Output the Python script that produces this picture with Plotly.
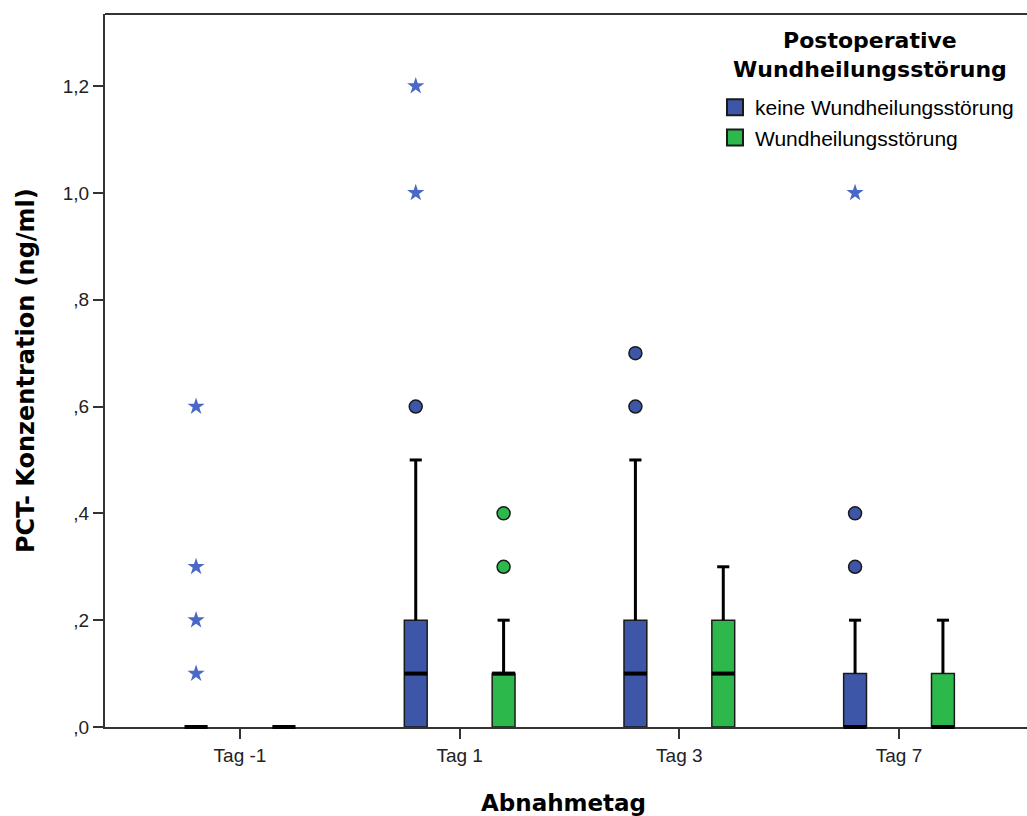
import plotly.graph_objects as go

# ---------------- data ----------------
categories = ["Tag -1", "Tag 1", "Tag 3", "Tag 7"]
groups = ["keine Wundheilungsstörung", "Wundheilungsstörung"]

# keine Wundheilungsstörung (blue)
blue_q1 = [0.0, 0.0, 0.0, 0.0]
blue_median = [0.0, 0.1, 0.1, 0.0]
blue_q3 = [0.0, 0.2, 0.2, 0.1]
blue_lower = [0.0, 0.0, 0.0, 0.0]
blue_upper = [0.0, 0.5, 0.5, 0.2]
blue_outliers = [[], [0.6], [0.6, 0.7], [0.3, 0.4]]
blue_extremes = [[0.1, 0.2, 0.3, 0.6], [1.0, 1.2], [], [1.0]]

# Wundheilungsstörung (green)
green_q1 = [0.0, 0.0, 0.0, 0.0]
green_median = [0.0, 0.1, 0.1, 0.0]
green_q3 = [0.0, 0.1, 0.2, 0.1]
green_lower = [0.0, 0.0, 0.0, 0.0]
green_upper = [0.0, 0.2, 0.3, 0.2]
green_outliers = [[], [0.3, 0.4], [], []]
green_extremes = [[], [], [], []]

y_tickvals = [0, 0.2, 0.4, 0.6, 0.8, 1.0, 1.2]
y_ticktext = [",0", ",2", ",4", ",6", ",8", "1,0", "1,2"]

legend_title = "Postoperative<br>Wundheilungsstörung"

# ---------------- style ----------------
BLUE = "#3d56a8"
GREEN = "#2db84b"
STAR_BLUE = "#4a68c6"
EDGE = "#1a1a1a"
OFFSET = 0.2
BOXW = 0.104
MEDIAN_SYM_SIZE = 23 / 1.4   # line-ew symbol length is 1.4 * size
CAPW = 0.055
REG_FONT = "Liberation Sans, Arial, sans-serif"
BOLD_FONT = "DejaVu Sans, sans-serif"

fig = go.Figure()

series = [
    (groups[0], -OFFSET, BLUE, blue_q1, blue_median, blue_q3, blue_lower, blue_upper, blue_outliers, blue_extremes),
    (groups[1], OFFSET, GREEN, green_q1, green_median, green_q3, green_lower, green_upper, green_outliers, green_extremes),
]

for name, off, color, q1, med, q3, lo, up, outl, extr in series:
    xs = [i + off for i in range(len(categories))]
    fig.add_trace(go.Box(
        x=xs, q1=q1, median=med, q3=q3, lowerfence=lo, upperfence=up,
        width=BOXW, whiskerwidth=0.5, fillcolor=color,
        line=dict(color=EDGE, width=1.5), boxpoints=False,
        showlegend=False, name=name, hoverinfo="skip",
    ))
    # thick whiskers + caps
    wx, wy = [], []
    for x, a, b in zip(xs, q3, up):
        if b > a:
            wx += [x, x, None, x - CAPW / 2, x + CAPW / 2, None]
            wy += [a, b, None, b, b, None]
    if wx:
        fig.add_trace(go.Scatter(x=wx, y=wy, mode="lines",
                                 line=dict(color="black", width=3),
                                 showlegend=False, hoverinfo="skip"))
    # thick medians (unclipped line markers)
    fig.add_trace(go.Scatter(x=xs, y=med, mode="markers",
                             marker=dict(symbol="line-ew", size=MEDIAN_SYM_SIZE,
                                         line=dict(color="black", width=4)),
                             showlegend=False, hoverinfo="skip", cliponaxis=False))
    # outliers (circles)
    ox, oy = [], []
    for x, vals in zip(xs, outl):
        ox += [x] * len(vals)
        oy += vals
    if ox:
        fig.add_trace(go.Scatter(x=ox, y=oy, mode="markers",
                                 marker=dict(symbol="circle", size=13, color=color,
                                             line=dict(color=EDGE, width=1.5)),
                                 showlegend=False, hoverinfo="skip", cliponaxis=False))
    # extremes (stars)
    sx, sy = [], []
    for x, vals in zip(xs, extr):
        sx += [x] * len(vals)
        sy += vals
    if sx:
        fig.add_trace(go.Scatter(x=sx, y=sy, mode="markers",
                                 marker=dict(symbol="star", size=13, color=STAR_BLUE,
                                             line=dict(width=0)),
                                 showlegend=False, hoverinfo="skip", cliponaxis=False))

# legend entries
for name, color in [(groups[0], BLUE), (groups[1], GREEN)]:
    fig.add_trace(go.Scatter(x=[None], y=[None], mode="markers", name=name,
                             marker=dict(symbol="square", size=16, color=color,
                                         line=dict(color=EDGE, width=2))))

fig.update_layout(
    width=1027, height=816,
    margin=dict(l=105, r=0, t=14, b=89),
    paper_bgcolor="white", plot_bgcolor="white",
    font=dict(family=REG_FONT, size=19, color="black"),
    showlegend=True,
    legend=dict(
        x=0.6616, y=0.8976, xanchor="left", yanchor="top",
        bgcolor="rgba(0,0,0,0)",
        font=dict(family=REG_FONT, size=21, color="black"),
        itemwidth=30, tracegroupgap=0,
    ),
    xaxis=dict(
        range=[-0.6146, 3.5827], tickmode="array",
        tickvals=list(range(len(categories))), ticktext=categories,
        showgrid=False, zeroline=False, showline=True, linecolor="#333333", linewidth=1.5,
        ticks="outside", ticklen=10, tickwidth=1.5, tickcolor="#333333",
        tickfont=dict(family=REG_FONT, size=19, color="#222222"),
        layer="below traces",
    ),
    yaxis=dict(
        range=[0, 1.335], tickmode="array", tickvals=y_tickvals, ticktext=y_ticktext,
        showgrid=False, zeroline=False, showline=True, linecolor="#333333", linewidth=2,
        ticks="outside", ticklen=10, tickwidth=2, tickcolor="#333333",
        tickfont=dict(family=REG_FONT, size=19, color="#222222"),
        layer="below traces",
    ),
    shapes=[dict(type="line", xref="paper", yref="paper", x0=0, x1=1, y0=1, y1=1,
                 line=dict(color="#333333", width=2))],
    annotations=[
        dict(text="PCT- Konzentration (ng/ml)", xref="paper", yref="paper",
             x=(26 - 105) / 922, y=(727 - 371) / 713, xanchor="center", yanchor="middle",
             textangle=-90, showarrow=False,
             font=dict(family=BOLD_FONT, size=24, color="black", weight="bold")),
        dict(text="Abnahmetag", xref="paper", yref="paper",
             x=0.497, y=(727 - 803) / 713, xanchor="center", yanchor="middle",
             showarrow=False,
             font=dict(family=BOLD_FONT, size=23, color="black", weight="bold")),
        dict(text=legend_title, xref="paper", yref="paper",
             x=(870 - 105) / 922, y=(727 - 55) / 713, xanchor="center", yanchor="middle",
             align="center", showarrow=False,
             font=dict(family=BOLD_FONT, size=22, color="black", weight="bold")),
    ],
)

fig.write_html("out.html")
